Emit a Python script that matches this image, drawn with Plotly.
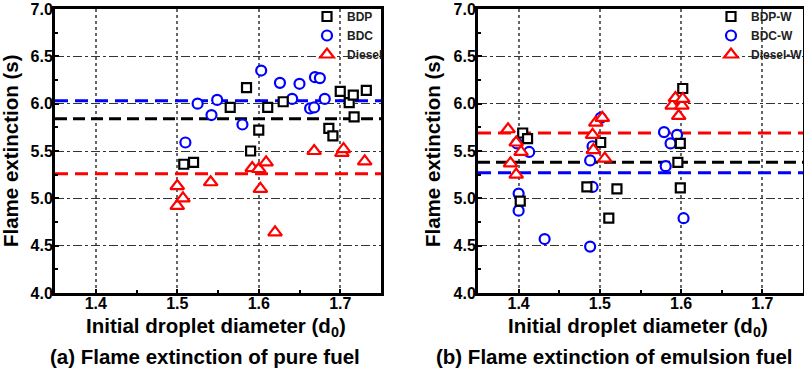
import plotly.graph_objects as go

# ---------------- data ----------------
x_tick_vals = [1.4, 1.5, 1.6, 1.7]
x_tick_text = ["1.4", "1.5", "1.6", "1.7"]
y_tick_vals = [4.0, 4.5, 5.0, 5.5, 6.0, 6.5, 7.0]
y_tick_text = ["4.0", "4.5", "5.0", "5.5", "6.0", "6.5", "7.0"]
x_range = [1.35, 1.75]
y_range = [4.0, 7.0]

# (a) pure fuel
pure_bdp_x = [1.508, 1.520, 1.565, 1.585, 1.590, 1.600, 1.611, 1.630, 1.686, 1.691, 1.700, 1.711, 1.716, 1.717, 1.732]
pure_bdp_y = [5.36, 5.38, 5.96, 6.17, 5.50, 5.72, 5.96, 6.02, 5.74, 5.66, 6.13, 6.01, 6.09, 5.86, 6.14]
pure_bdc_x = [1.510, 1.525, 1.542, 1.549, 1.580, 1.603, 1.626, 1.641, 1.650, 1.663, 1.668, 1.669, 1.675, 1.681]
pure_bdc_y = [5.59, 6.00, 5.88, 6.04, 5.78, 6.35, 6.22, 6.05, 6.21, 5.95, 5.96, 6.28, 6.27, 6.05]
pure_diesel_x = [1.500, 1.500, 1.507, 1.541, 1.592, 1.600, 1.602, 1.609, 1.620, 1.668, 1.702, 1.704, 1.730]
pure_diesel_y = [5.13, 4.92, 5.00, 5.17, 5.32, 5.31, 5.10, 5.38, 4.64, 5.50, 5.48, 5.52, 5.39]
pure_means = {"BDP": 5.84, "BDC": 6.03, "Diesel": 5.26}

# (b) emulsion fuel
emul_bdp_x = [1.402, 1.405, 1.411, 1.484, 1.501, 1.511, 1.521, 1.596, 1.599, 1.599, 1.602]
emul_bdp_y = [4.97, 5.69, 5.63, 5.12, 5.59, 4.79, 5.10, 5.38, 5.58, 5.11, 6.16]
emul_bdc_x = [1.398, 1.400, 1.400, 1.413, 1.432, 1.488, 1.488, 1.491, 1.491, 1.501, 1.579, 1.581, 1.587, 1.595, 1.603]
emul_bdc_y = [5.58, 5.05, 4.87, 5.49, 4.57, 4.49, 5.40, 5.12, 5.55, 5.85, 5.70, 5.34, 5.58, 5.67, 4.79]
emul_diesel_x = [1.387, 1.390, 1.397, 1.397, 1.403, 1.491, 1.492, 1.495, 1.503, 1.506, 1.589, 1.593, 1.597, 1.601, 1.602]
emul_diesel_y = [5.73, 5.37, 5.59, 5.25, 5.49, 5.67, 5.51, 5.80, 5.85, 5.42, 5.98, 6.06, 5.87, 5.98, 6.05]
emul_means = {"BDP-W": 5.38, "BDC-W": 5.27, "Diesel-W": 5.69}

y_title = "Flame extinction (s)"
x_title = "Initial droplet diameter (d<sub>0</sub>)"
caption_a = "(a) Flame extinction of pure fuel"
caption_b = "(b) Flame extinction of emulsion fuel"

# ---------------- styles ----------------
BOLD = "Liberation Sans"
styles = [
    dict(symbol="square", size=9, color="black", dash="12px,6px"),
    dict(symbol="circle", size=10, color="#0000ff", dash="13px,7px"),
    dict(symbol="triangle-up", size=12, color="#ff0000", dash="13px,7px"),
]

fig = go.Figure()

panels = [
    (["BDP", "BDC", "Diesel"],
     [(pure_bdp_x, pure_bdp_y), (pure_bdc_x, pure_bdc_y), (pure_diesel_x, pure_diesel_y)],
     pure_means, "x", "y", "legend"),
    (["BDP-W", "BDC-W", "Diesel-W"],
     [(emul_bdp_x, emul_bdp_y), (emul_bdc_x, emul_bdc_y), (emul_diesel_x, emul_diesel_y)],
     emul_means, "x2", "y2", "legend2"),
]

for names, series, means, xa, ya, lg in panels:
    for name, st in zip(names, styles):
        fig.add_trace(go.Scatter(
            x=x_range, y=[means[name], means[name]], mode="lines",
            line=dict(color=st["color"], width=3, dash=st["dash"]),
            showlegend=False, hoverinfo="skip", xaxis=xa, yaxis=ya))
    for idx in [1, 0, 2]:
        st = styles[idx]
        sx, sy = series[idx]
        fig.add_trace(go.Scatter(
            x=sx, y=sy, mode="markers", name=names[idx],
            marker=dict(symbol=st["symbol"], size=st["size"], color="white",
                        line=dict(color=st["color"], width=2.2)),
            legend=lg, legendrank=idx + 1, xaxis=xa, yaxis=ya))

tickfont = dict(family=BOLD, size=16, color="black", weight="bold")

def xaxis(domain, anchor):
    return dict(domain=domain, anchor=anchor, range=x_range,
                tickvals=x_tick_vals, ticktext=x_tick_text,
                tickfont=tickfont, ticks="inside", ticklen=4, tickwidth=2, tickcolor="black",
                ticklabelstandoff=-6,
                minor=dict(dtick=0.05, tick0=1.35, ticks="inside", ticklen=3, tickwidth=1.5, tickcolor="black"),
                showline=True, linewidth=3, linecolor="black", mirror=True,
                showgrid=True, gridcolor="#666666", gridwidth=1.5, griddash="dot",
                zeroline=False)

def yaxis(anchor):
    return dict(domain=[0, 1], anchor=anchor, range=y_range,
                tickvals=y_tick_vals, ticktext=y_tick_text,
                tickfont=tickfont, ticks="inside", ticklen=4, tickwidth=2, tickcolor="black",
                ticklabelstandoff=-4,
                minor=dict(dtick=0.25, tick0=4.0, ticks="inside", ticklen=3, tickwidth=1.5, tickcolor="black"),
                showline=True, linewidth=3, linecolor="black", mirror=True,
                showgrid=True, gridcolor="#333333", gridwidth=1, griddash="dashdot",
                zeroline=False)

legfont = dict(family=BOLD, size=12, color="#222222", weight="bold")

W, H = 804, 383
ML, MR, MT, MB = 55, 1, 9, 90
pw = W - ML - MR
ph = H - MT - MB

def px_x(p):
    return (p - ML) / pw

def px_y(p):
    return (H - MB - p) / ph

fig.update_layout(
    width=W, height=H,
    margin=dict(l=ML, r=MR, t=MT, b=MB, autoexpand=False),
    paper_bgcolor="white", plot_bgcolor="white",
    xaxis=xaxis([0, px_x(381)], "y"),
    yaxis=yaxis("x"),
    xaxis2=xaxis([px_x(478), 1.0], "y2"),
    yaxis2=yaxis("x2"),
    legend=dict(x=px_x(307), y=px_y(2), xanchor="left", yanchor="top",
                bgcolor="rgba(0,0,0,0)", font=legfont, itemwidth=30,
                tracegroupgap=0, borderwidth=0),
    legend2=dict(x=px_x(711), y=px_y(2), xanchor="left", yanchor="top",
                 bgcolor="rgba(0,0,0,0)", font=legfont, itemwidth=30,
                 tracegroupgap=0, borderwidth=0),
    showlegend=True,
)

tfont = dict(family=BOLD, size=20.5, color="black", weight="bold")
ann = [
    dict(text=y_title, x=px_x(10), y=px_y(151), textangle=-90),
    dict(text=y_title, x=px_x(432), y=px_y(151), textangle=-90),
    dict(text=x_title, x=px_x(216), y=px_y(327)),
    dict(text=x_title, x=px_x(638), y=px_y(327)),
    dict(text=caption_a, x=px_x(205), y=px_y(356)),
    dict(text=caption_b, x=px_x(614), y=px_y(356)),
]
for a in ann:
    fig.add_annotation(xref="paper", yref="paper", xanchor="center", yanchor="middle",
                       showarrow=False, font=tfont, **a)

fig.write_html("out.html", config={"displayModeBar": False},
               post_script="document.body.style.margin='0';document.body.style.overflow='hidden';")
